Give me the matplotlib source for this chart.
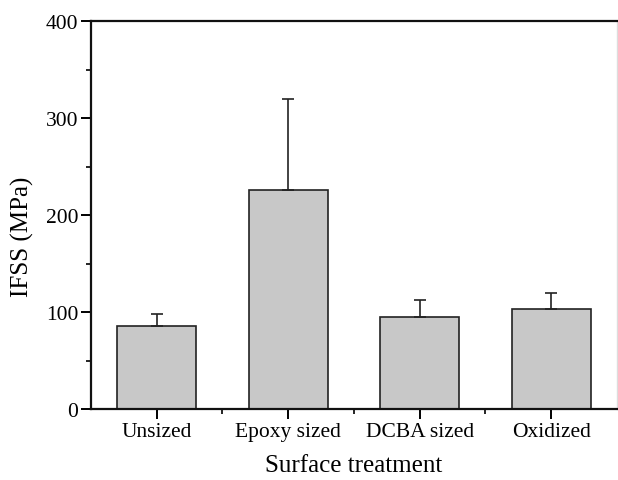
import matplotlib
matplotlib.use("Agg")
import matplotlib.pyplot as plt
from matplotlib.ticker import MultipleLocator, FixedLocator

treatments = ["Unsized", "Epoxy sized", "DCBA sized", "Oxidized"]
ifss = [86, 226, 95, 103]
ifss_err = [12, 94, 17, 17]

plt.rcParams['font.family'] = ['Liberation Serif', 'DejaVu Serif']

fig = plt.figure(figsize=(6.18, 4.81), dpi=100)
ax = fig.add_axes([0.1472, 0.1476, 0.851, 0.8066])

pos = list(range(len(treatments)))
ax.bar(pos, ifss, width=0.6, color='#c8c8c8', edgecolor='#222222', linewidth=1.2,
       yerr=[[0] * len(ifss_err), ifss_err], capsize=4,
       error_kw=dict(ecolor='#222222', elinewidth=1.2, capthick=1.2), zorder=2)

ax.set_xlim(-0.5, 3.5)
ax.set_ylim(0, 400)
ax.set_xticks(pos)
ax.set_xticklabels(treatments)
ax.xaxis.set_minor_locator(FixedLocator([0.5, 1.5, 2.5]))
ax.yaxis.set_major_locator(MultipleLocator(100))
ax.yaxis.set_minor_locator(MultipleLocator(50))

for side in ['left', 'top', 'bottom']:
    ax.spines[side].set_linewidth(1.6)
    ax.spines[side].set_color('#111111')
ax.spines['right'].set_color('#dddddd')
ax.spines['right'].set_linewidth(1.0)

ax.tick_params(axis='both', which='major', direction='out', length=7, width=1.4,
               labelsize=15.5, pad=2)
ax.tick_params(axis='both', which='minor', direction='out', length=3.5, width=1.2)
ax.tick_params(axis='y', which='both', right=False)
ax.tick_params(axis='x', which='both', top=False)

ax.set_xlabel("Surface treatment", fontsize=18)
ax.set_ylabel("IFSS (MPa)", fontsize=18)
ax.xaxis.set_label_coords(0.5, -0.144)
ax.yaxis.set_label_coords(-0.131, 0.446)
ax.xaxis.label.set_va('center')
ax.yaxis.label.set_va('center')

fig.savefig("out.png", dpi=100)
